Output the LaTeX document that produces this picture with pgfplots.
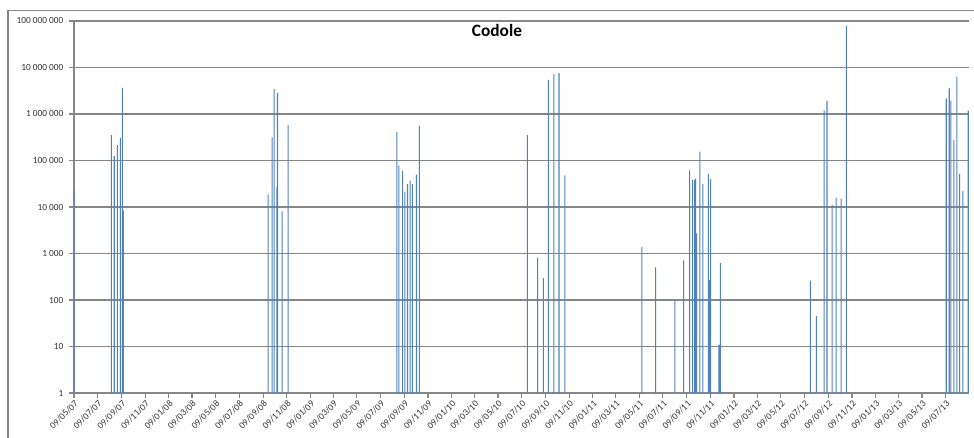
\documentclass[border=0pt]{standalone}
\usepackage{fontspec}
\setmainfont{Carlito}
\usepackage{pgfplots}
\pgfplotsset{compat=1.18}
\definecolor{barblue}{RGB}{79,129,189}
\definecolor{gridgray}{RGB}{134,134,134}
\definecolor{labelgray}{RGB}{50,50,50}
\begin{document}
\begin{tikzpicture}
\begin{axis}[
  scale only axis,
  width=671.25pt, height=279pt,
  ymode=log, ymin=1, ymax=1e8, log origin=0,
  xmin=0, xmax=2313.5,
  ytick={1,10,100,1000,10000,100000,1000000,10000000,100000000},
  yticklabels={1,10,100,1~000,10~000,100~000,1~000~000,10~000~000,100~000~000},
  yminorticks=false,
  xtick={0,61,123,184,245,305,366,427,489,550,611,670,731,792,854,915,976,1035,1096,1157,1219,1280,1341,1400,1461,1522,1584,1645,1706,1766,1827,1888,1950,2011,2072,2131,2192,2253},
  xticklabels={09/05/07,09/07/07,09/09/07,09/11/07,09/01/08,09/03/08,09/05/08,09/07/08,09/09/08,09/11/08,09/01/09,09/03/09,09/05/09,09/07/09,09/09/09,09/11/09,09/01/10,09/03/10,09/05/10,09/07/10,09/09/10,09/11/10,09/01/11,09/03/11,09/05/11,09/07/11,09/09/11,09/11/11,09/01/12,09/03/12,09/05/12,09/07/12,09/09/12,09/11/12,09/01/13,09/03/13,09/05/13,09/07/13},
  ymajorgrids, grid style={gridgray, line width=0.9pt},
  axis lines*=left,
  axis line style={gridgray, line width=1.1pt},
  tick style={gridgray, line width=0.8pt},
  tick align=outside,
  major tick length=3.4pt,
  ticklabel style={font=\fontsize{7}{8}\selectfont, text=labelgray},
  yticklabel style={xshift=-1pt},
  xticklabel style={rotate=45, anchor=north east, inner sep=1pt},
  clip mode=individual,
]
\addplot[ybar, bar width=0.8pt, bar shift=0pt, fill=barblue, draw=none] table {
x y
0.5 23000
96.5 351000
104 124000
112 214000
119.7 308000
125 3650000
127.5 8500
502 18800
512 313000
517.4 3430000
524.2 26300
526 2860000
538 8100
553.4 575000
834.5 410000
839.7 78000
849.5 60000
855.5 21500
862 31000
869 37000
874.7 31000
885.4 50000
892.6 560000
1172 351000
1198.2 815
1213.4 295
1226 5400000
1240.3 7200000
1253.7 7600000
1268.9 48000
1468 1380
1503.3 505
1553.3 97
1575.8 710
1591.3 61500
1599 39000
1604.2 38000
1606.8 41000
1609.4 2700
1618 155000
1625.8 31000
1639.6 52000
1642.2 270
1645.6 40000
1667.2 10.8
1670.7 620
1903.5 257
1919 45
1938.8 1200000
1946.5 1920000
1959.5 11000
1969.8 16000
1982.7 15000
1996.5 80000000
2254.7 2150000
2262.5 3550000
2266.8 1950000
2274.5 275000
2282.3 6400000
2289.2 51000
2297.8 22000
2311.5 1180000
};
\node[font=\bfseries\fontsize{13}{15}\selectfont] at (rel axis cs:0.4726,0.974) {Codole};
\end{axis}
\draw[gridgray, line width=0.9pt] (-49.5pt,-60pt) -- (-49.5pt,286.7pt) -- (700pt,286.7pt);
\pgfresetboundingbox
\path[use as bounding box] (-55.5pt,-33pt) rectangle (675pt,294.75pt);
\end{tikzpicture}
\end{document}
